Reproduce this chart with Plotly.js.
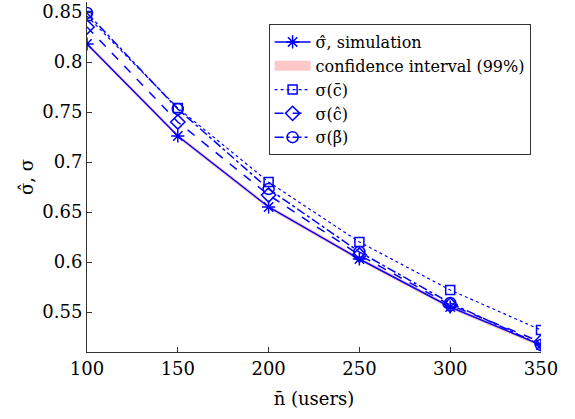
<!DOCTYPE html>
<html><head><meta charset="utf-8">
<script src="https://cdn.plot.ly/plotly-3.0.1.min.js"></script>
<style>html,body{margin:0;padding:0;background:#fff}#c{width:575px;height:419px}</style>
</head><body><div id="c"></div>
<script>
const users = [100, 150, 200, 250, 300, 350];
const simHat = [0.818, 0.726, 0.655, 0.603, 0.555, 0.517];
const ciLow  = [0.816, 0.724, 0.653, 0.601, 0.553, 0.515];
const ciHigh = [0.820, 0.728, 0.657, 0.605, 0.557, 0.519];
const sigmaCbar = [0.846, 0.754, 0.680, 0.620, 0.572, 0.532];
const sigmaChat = [0.835, 0.740, 0.667, 0.607, 0.557, 0.520];
const sigmaBeta = [0.849, 0.753, 0.673, 0.610, 0.559, 0.517];
const xTicks = [100, 150, 200, 250, 300, 350];
const yTicks = [0.55, 0.6, 0.65, 0.7, 0.75, 0.8, 0.85];
const yTickText = ['0.55', '0.6', '0.65', '0.7', '0.75', '0.8', '0.85'];

const blue = 'rgb(0,0,255)';
const pink = 'rgb(255,200,200)';
const F = "'DejaVu Serif', 'Liberation Serif', serif";
const traces = [
  {x: users.concat(users.slice().reverse()), y: ciHigh.concat(ciLow.slice().reverse()),
   fill: 'toself', fillcolor: pink, line: {width: 0},
   mode: 'none', name: 'band', showlegend: false, hoverinfo: 'skip'},
  {x: [null], y: [null], mode: 'lines', name: 'confidence interval (99%)', legendrank: 2,
   line: {color: pink, width: 16}},
  {x: users, y: simHat, mode: 'lines+markers', name: 'σ̂, simulation', legendrank: 1,
   line: {color: blue, width: 1.5}, marker: {symbol: 'asterisk-open', size: 11, color: blue, line: {color: blue, width: 1.5}}},
  {x: users, y: sigmaCbar, mode: 'lines+markers', name: 'σ(c̄)', legendrank: 3,
   line: {color: blue, width: 1.2, dash: 'dot'}, marker: {symbol: 'square-open', size: 9, color: blue, line: {color: blue, width: 1.5}}},
  {x: users, y: sigmaChat, mode: 'lines+markers', name: 'σ(ĉ)', legendrank: 4,
   line: {color: blue, width: 1.5, dash: 'dash'}, marker: {symbol: 'diamond-open', size: 11, color: blue, line: {color: blue, width: 1.5}}},
  {x: users, y: sigmaBeta, mode: 'lines+markers', name: 'σ(β̃)', legendrank: 5,
   line: {color: blue, width: 1.5, dash: 'dashdot'}, marker: {symbol: 'circle-open', size: 11, color: blue, line: {color: blue, width: 1.5}}}
];

const layout = {
  width: 575, height: 419,
  margin: {l: 87, r: 34, t: 2, b: 67},
  paper_bgcolor: '#fff', plot_bgcolor: '#fff',
  font: {family: F, size: 18, color: '#000'},
  showlegend: true,
  legend: {x: 0.4, y: 0.937, xanchor: 'left', yanchor: 'top', bgcolor: '#fff',
           bordercolor: '#333', borderwidth: 1, font: {family: F, size: 16}, tracegroupgap: 0,
           itemwidth: 36},
  xaxis: {range: [100, 350], tickvals: xTicks, ticks: 'inside', ticklen: 5, tickcolor: '#333',
          showline: true, linecolor: '#333', linewidth: 1, showgrid: false, zeroline: false,
          title: {text: 'n̄ (users)', font: {family: F, size: 18}, standoff: 14},
          tickfont: {family: F, size: 18}},
  yaxis: {range: [0.51, 0.86], tickvals: yTicks, ticktext: yTickText, ticks: 'inside', ticklen: 5, tickcolor: '#333',
          showline: true, linecolor: '#333', linewidth: 1, showgrid: false, zeroline: false,
          title: {text: 'σ̂, σ', font: {family: F, size: 18}, standoff: 4},
          tickfont: {family: F, size: 18}}
};
Plotly.newPlot('c', traces, layout, {displayModeBar: false, staticPlot: true});
</script></body></html>
